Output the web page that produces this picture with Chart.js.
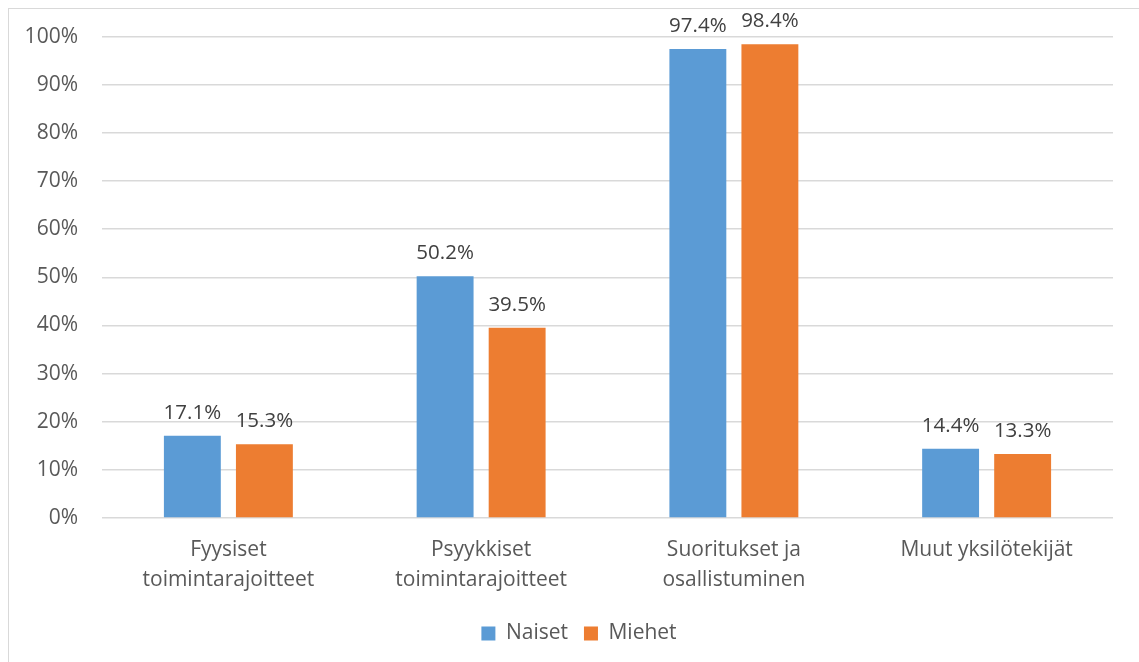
<!DOCTYPE html>
<html>
<head>
<meta charset="utf-8">
<script src="https://cdn.jsdelivr.net/npm/chart.js@4/dist/chart.umd.min.js"></script>
<style>
    html, body { margin: 0; padding: 0; background: #fff; }
    #frame {
        position: absolute; left: 8px; top: 8px;
        width: 1200px; height: 700px;
        border: 1px solid #d9d9d9;
    }
    #wrap { position: absolute; left: 0; top: 0; width: 1139px; height: 662px; }
</style>
</head>
<body>
<div id="frame"></div>
<div id="wrap"><canvas id="barChart" width="1139" height="662"></canvas></div>
<script>
const categories = [
    ['Fyysiset', 'toimintarajoitteet'],
    ['Psyykkiset', 'toimintarajoitteet'],
    ['Suoritukset ja', 'osallistuminen'],
    ['Muut yksilötekijät']
];
const naiset = [17.1, 50.2, 97.4, 14.4];
const miehet = [15.3, 39.5, 98.4, 13.3];
const yTicks = [0, 10, 20, 30, 40, 50, 60, 70, 80, 90, 100];

const FONT = '"Open Sans", Lato, sans-serif';
const LEGEND_CENTER_X = 579;

// value labels above each bar
const valueLabels = {
    id: 'valueLabels',
    afterDatasetsDraw(chart) {
        const ctx = chart.ctx;
        ctx.save();
        ctx.font = '20.5px ' + FONT;
        ctx.fillStyle = '#404040';
        ctx.textAlign = 'center';
        ctx.textBaseline = 'alphabetic';
        chart.data.datasets.forEach((ds, i) => {
            chart.getDatasetMeta(i).data.forEach((bar, j) => {
                ctx.fillText(ds.data[j].toFixed(1) + '%', bar.x, bar.y - 17);
            });
        });
        ctx.restore();
    }
};

// move the legend a little right of the canvas centre
const legendShift = {
    id: 'legendShift',
    afterLayout(chart) {
        const lg = chart.legend;
        const shift = LEGEND_CENTER_X - (lg.left + lg.right) / 2;
        lg.left += shift;
        lg.right += shift;
    }
};

const ctx = document.getElementById('barChart').getContext('2d');
const barChart = new Chart(ctx, {
    type: 'bar',
    data: {
        labels: categories,
        datasets: [
            { label: 'Naiset', data: naiset, backgroundColor: '#5b9bd5' },
            { label: 'Miehet', data: miehet, backgroundColor: '#ed7d31' }
        ]
    },
    options: {
        responsive: false,
        animation: false,
        layout: { padding: { left: 0, right: 26, top: 34, bottom: 8 } },
        datasets: { bar: { categoryPercentage: 0.57, barPercentage: 0.79 } },
        plugins: {
            legend: {
                position: 'bottom',
                labels: {
                    font: { family: FONT, size: 21 },
                    color: '#595959',
                    boxWidth: 14,
                    boxHeight: 14,
                    padding: 16
                }
            },
            tooltip: { enabled: false }
        },
        scales: {
            x: {
                grid: { display: false },
                border: { display: false },
                ticks: {
                    color: '#595959',
                    font: { family: FONT, size: 21, lineHeight: 1.43 },
                    padding: 9,
                    maxRotation: 0
                },
                afterFit(scale) { scale.height = 89; }
            },
            y: {
                min: 0,
                max: 100,
                afterBuildTicks(scale) {
                    scale.ticks = yTicks.map(v => ({ value: v }));
                },
                grid: { color: '#d9d9d9', lineWidth: 1.5, drawTicks: false },
                border: { display: false },
                ticks: {
                    color: '#595959',
                    font: { family: FONT, size: 21 },
                    padding: 24,
                    callback: v => v + '%'
                },
                afterFit(scale) { scale.width = 102; }
            }
        }
    },
    plugins: [valueLabels, legendShift]
});
</script>
</body>
</html>
